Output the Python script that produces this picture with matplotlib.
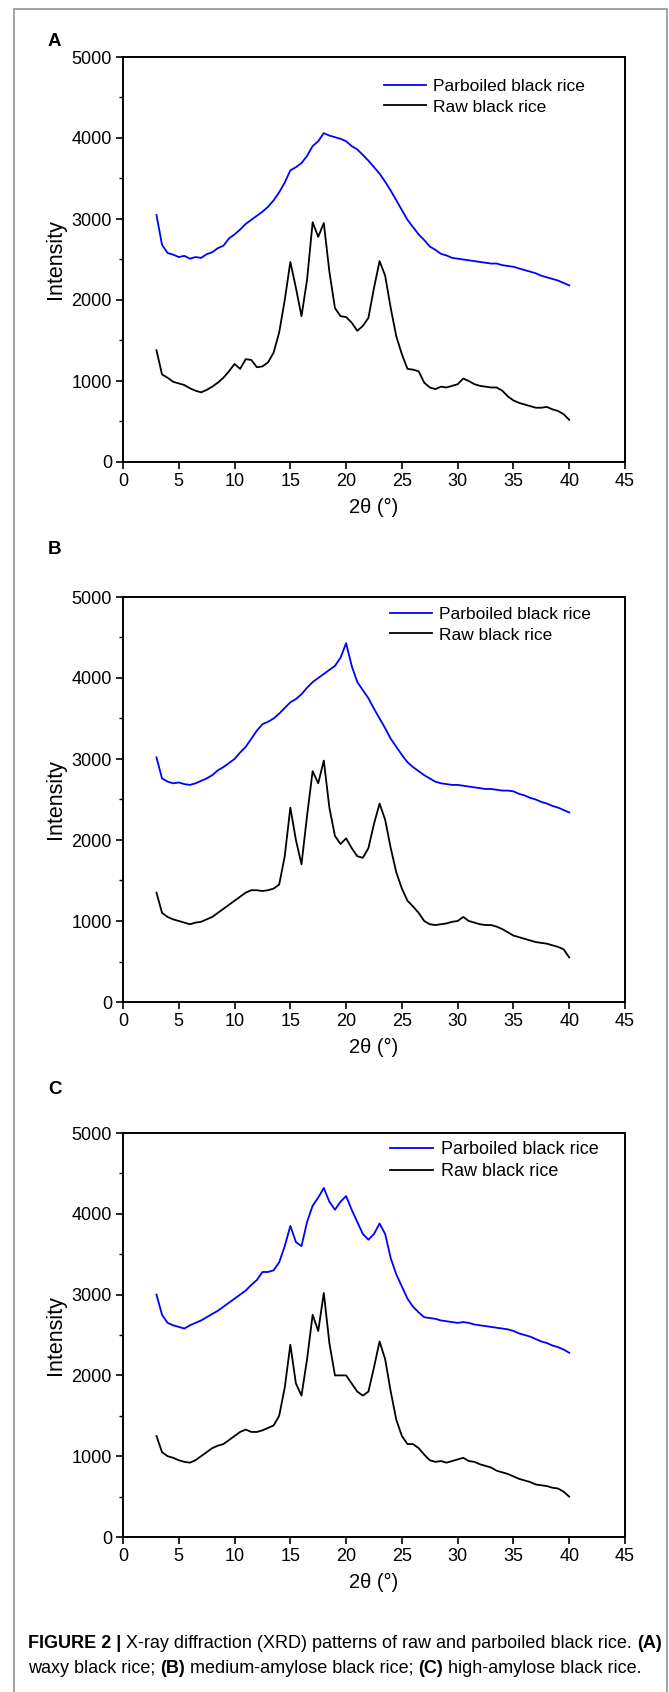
import matplotlib

matplotlib.use("Agg")
import matplotlib.pyplot as plt
from matplotlib.patches import Rectangle

W, H, DPI = 669, 1692, 100

plt.rcParams["font.family"] = ["Liberation Sans", "DejaVu Sans"]

TWO_THETA = [
    3.0, 3.5, 4.0, 4.5, 5.0, 5.5, 6.0, 6.5, 7.0, 7.5,
    8.0, 8.5, 9.0, 9.5, 10.0, 10.5, 11.0, 11.5, 12.0, 12.5,
    13.0, 13.5, 14.0, 14.5, 15.0, 15.5, 16.0, 16.5, 17.0, 17.5,
    18.0, 18.5, 19.0, 19.5, 20.0, 20.5, 21.0, 21.5, 22.0, 22.5,
    23.0, 23.5, 24.0, 24.5, 25.0, 25.5, 26.0, 26.5, 27.0, 27.5,
    28.0, 28.5, 29.0, 29.5, 30.0, 30.5, 31.0, 31.5, 32.0, 32.5,
    33.0, 33.5, 34.0, 34.5, 35.0, 35.5, 36.0, 36.5, 37.0, 37.5,
    38.0, 38.5, 39.0, 39.5, 40.0,
]

# (A) waxy black rice
A_PARBOILED = [
    3050, 2680, 2580, 2560, 2530, 2545, 2510, 2530, 2520, 2565,
    2590, 2640, 2670, 2760, 2810, 2870, 2940, 2990, 3040, 3090,
    3150, 3230, 3330, 3450, 3600, 3640, 3690, 3780, 3900, 3960,
    4060, 4030, 4010, 3990, 3960, 3900, 3860, 3790, 3720, 3640,
    3560, 3460, 3350, 3230, 3110, 2990, 2900, 2810, 2740, 2660,
    2620, 2570, 2550, 2520, 2510, 2500, 2490, 2480, 2470, 2460,
    2450, 2450, 2430, 2420, 2410, 2390, 2370, 2350, 2330, 2300,
    2280, 2260, 2240, 2210, 2180,
]
A_RAW = [
    1380, 1080, 1040, 990, 970, 950, 910, 880, 860, 890,
    930, 980, 1040, 1120, 1210, 1150, 1270, 1260, 1170, 1180,
    1230, 1350, 1600, 2000, 2470, 2150, 1800, 2250, 2960, 2780,
    2950, 2350, 1900, 1800, 1790, 1720, 1620, 1680, 1780, 2150,
    2480, 2300, 1900, 1550, 1330, 1150, 1140, 1120, 980, 920,
    900, 930, 920, 940, 960, 1030, 1000, 960, 940, 930,
    920, 920, 880, 810, 760, 730, 710, 690, 670, 670,
    680, 650, 630, 590, 520,
]

# (B) medium-amylose black rice
B_PARBOILED = [
    3020, 2760, 2720, 2700, 2710, 2690, 2680, 2700, 2730, 2760,
    2800, 2860, 2900, 2950, 3000, 3080, 3150, 3250, 3350, 3430,
    3460, 3500, 3560, 3630, 3700, 3740, 3800, 3880, 3950, 4000,
    4050, 4100, 4150, 4250, 4430, 4150, 3950, 3850, 3750, 3620,
    3500, 3380, 3250, 3150, 3050, 2960, 2900, 2850, 2800, 2760,
    2720, 2700, 2690, 2680, 2680, 2670, 2660, 2650, 2640, 2630,
    2630, 2620, 2610, 2610, 2600, 2570, 2550, 2520, 2500, 2470,
    2450, 2420, 2400, 2370, 2340,
]
B_RAW = [
    1350, 1100, 1050, 1020, 1000, 980, 960, 980, 990, 1020,
    1050, 1100, 1150, 1200, 1250, 1300, 1350, 1380, 1380, 1370,
    1380, 1400, 1450, 1800, 2400, 2000, 1700, 2300, 2850, 2700,
    2980, 2400, 2050, 1950, 2020, 1900, 1800, 1780, 1900, 2200,
    2450, 2250, 1900, 1600, 1400, 1250, 1180, 1100, 1000, 960,
    950, 960, 970, 990, 1000, 1050, 1000, 980, 960, 950,
    950, 930, 900, 860, 820, 800, 780, 760, 740, 730,
    720, 700, 680, 650, 550,
]

# (C) high-amylose black rice
C_PARBOILED = [
    3000, 2750, 2650, 2620, 2600, 2580, 2620, 2650, 2680, 2720,
    2760, 2800, 2850, 2900, 2950, 3000, 3050, 3120, 3180, 3280,
    3280, 3300, 3400, 3600, 3850, 3650, 3600, 3900, 4100, 4200,
    4320, 4150, 4050, 4150, 4220, 4050, 3900, 3750, 3680, 3750,
    3880, 3750, 3450, 3250, 3100, 2950, 2850, 2780, 2720, 2710,
    2700, 2680, 2670, 2660, 2650, 2660, 2650, 2630, 2620, 2610,
    2600, 2590, 2580, 2570, 2550, 2520, 2500, 2480, 2450, 2420,
    2400, 2370, 2350, 2320, 2280,
]
C_RAW = [
    1250, 1050, 1000, 980, 950, 930, 920, 950, 1000, 1050,
    1100, 1130, 1150, 1200, 1250, 1300, 1330, 1300, 1300, 1320,
    1350, 1380, 1500, 1850, 2380, 1900, 1750, 2200, 2750, 2550,
    3020, 2400, 2000, 2000, 2000, 1900, 1800, 1750, 1800, 2100,
    2420, 2200, 1800, 1450, 1250, 1150, 1150, 1100, 1020, 950,
    930, 940, 920, 940, 960, 980, 940, 930, 900, 880,
    860, 820, 800, 780, 750, 720, 700, 680, 650, 640,
    630, 610, 600, 560, 500,
]

PANEL_LETTERS = ["A", "B", "C"]
SERIES_LABELS = ["Parboiled black rice", "Raw black rice"]
X_TICKS = [0, 5, 10, 15, 20, 25, 30, 35, 40, 45]
Y_TICKS = [0, 1000, 2000, 3000, 4000, 5000]
CAPTION_1 = "X-ray diffraction (XRD) patterns of raw and parboiled black rice. "
CAPTION_2 = ["waxy black rice; ", "(B)", " medium-amylose black rice; ", "(C)", " high-amylose black rice."]

# layout in pixels: axes top, axes bottom, letter y, legend top, legend left, legend size
PANELS = [
    (57, 462, 42, 79, 384, 12.5),
    (597, 1002, 550, 607, 390, 12.5),
    (1133, 1537, 1090, 1141, 390, 13.0),
]
AX_LEFT, AX_RIGHT = 123, 625


def px_axes(fig, left, top, right, bottom):
    return fig.add_axes([left / W, 1 - bottom / H, (right - left) / W, (bottom - top) / H])


fig = plt.figure(figsize=(W / DPI, H / DPI), dpi=DPI)
fig.patches.append(Rectangle((14 / W, -0.01), 653 / W, 1.01 - 9 / H, transform=fig.transFigure,
                             fill=False, edgecolor="#8a8a8a", linewidth=1.1))

data = [(A_PARBOILED, A_RAW), (B_PARBOILED, B_RAW), (C_PARBOILED, C_RAW)]
for (top, bottom, letter_y, leg_y, leg_x, leg_fs), letter, (parb, raw) in zip(PANELS, PANEL_LETTERS, data):
    ax = px_axes(fig, AX_LEFT, top, AX_RIGHT, bottom)
    ax.plot(TWO_THETA, parb, color="#0000ff", linewidth=1.3, label=SERIES_LABELS[0])
    ax.plot(TWO_THETA, raw, color="#000000", linewidth=1.3, label=SERIES_LABELS[1])
    ax.set_xlim(0, 45)
    ax.set_ylim(0, 5000)
    ax.set_xticks(X_TICKS)
    ax.set_yticks(Y_TICKS)
    ax.set_yticks([500, 1500, 2500, 3500, 4500], minor=True)
    ax.tick_params(axis="both", which="major", direction="out", length=5, width=1.2,
                   labelsize=13, pad=3)
    ax.tick_params(axis="y", which="minor", direction="out", length=3, width=1.0)
    for spine in ax.spines.values():
        spine.set_linewidth(1.4)
    ax.set_xlabel("2θ (°)", fontsize=14.5)
    ax.set_ylabel("Intensity", fontsize=15.5)
    ax.xaxis.set_label_coords(0.5, -45 / (bottom - top))
    ax.yaxis.set_label_coords((56 - AX_LEFT) / (AX_RIGHT - AX_LEFT), 0.5)
    ax.xaxis.label.set_va("center")
    ax.yaxis.label.set_va("center")
    leg = ax.legend(loc="upper left", bbox_to_anchor=(leg_x / W, 1 - leg_y / H),
                    bbox_transform=fig.transFigure, frameon=False, fontsize=leg_fs,
                    borderpad=0, borderaxespad=0, handlelength=2.4, handletextpad=0.4,
                    labelspacing=0.3)
    for line in leg.get_lines():
        line.set_linewidth(1.3)
    fig.text(48 / W, 1 - letter_y / H, letter, fontsize=13.5, fontweight="bold",
             ha="left", va="center")

# caption
cap_font = ["Liberation Sans Narrow", "Liberation Sans", "DejaVu Sans"]
t = fig.text(28 / W, 1 - 1643 / H, "FIGURE 2 | ", fontsize=13, fontweight="bold",
             family=cap_font, va="center")
fig.canvas.draw()
renderer = fig.canvas.get_renderer()
x = t.get_window_extent(renderer).x1
t = fig.text(x / W, 1 - 1643 / H, CAPTION_1, fontsize=13, family=cap_font, va="center")
x = t.get_window_extent(renderer).x1
fig.text(x / W, 1 - 1643 / H, "(A)", fontsize=13, fontweight="bold", family=cap_font, va="center")
x = 28
for part in CAPTION_2:
    t = fig.text(x / W, 1 - 1668 / H, part, fontsize=13, family=cap_font, va="center",
                 fontweight="bold" if part.startswith("(") else "normal")
    x = t.get_window_extent(renderer).x1

fig.savefig("out.png", dpi=DPI)
